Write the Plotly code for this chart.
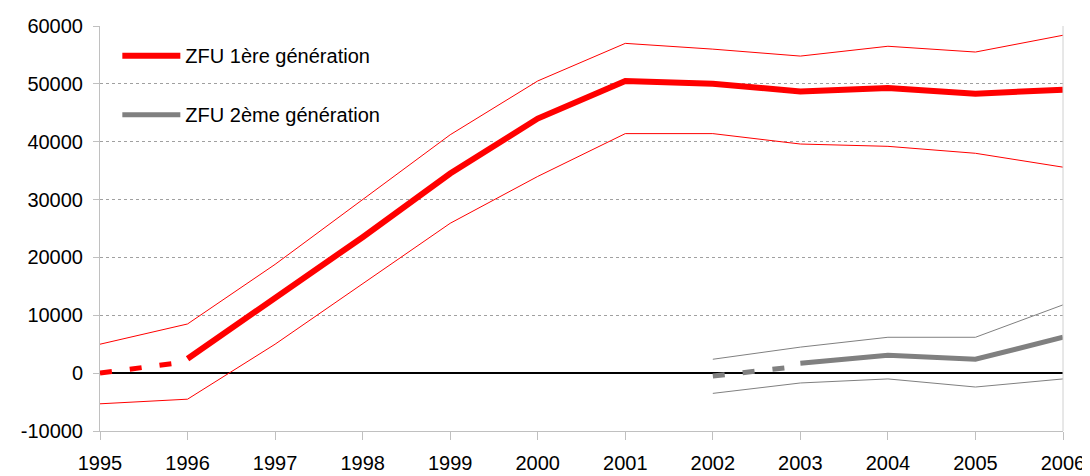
import plotly.graph_objects as go

years = [1995, 1996, 1997, 1998, 1999, 2000, 2001, 2002, 2003, 2004, 2005, 2006]
y_ticks = [-10000, 0, 10000, 20000, 30000, 40000, 50000, 60000]
y_labels = ["-10000", "0", "10000", "20000", "30000", "40000", "50000", "60000"]

# ZFU 1ère génération
g1_years_pre = [1995, 1996]
g1_pre = [0, 2000]
g1_years = [1996, 1997, 1998, 1999, 2000, 2001, 2002, 2003, 2004, 2005, 2006]
g1_mid = [2500, 13000, 23500, 34500, 44000, 50500, 50000, 48700, 49300, 48300, 49000]
g1_up = [5000, 8500, 18800, 30000, 41200, 50500, 57000, 56000, 54800, 56500, 55500, 58400]
g1_lo = [-5300, -4500, 5000, 15500, 25900, 34000, 41400, 41400, 39600, 39200, 38000, 35600]

# ZFU 2ème génération
g2_years_pre = [2002, 2003]
g2_pre = [-500, 1200]
g2_years = [2003, 2004, 2005, 2006]
g2_mid = [1700, 3100, 2400, 6200]
g2_band_years = [2002, 2003, 2004, 2005, 2006]
g2_up = [2400, 4500, 6200, 6200, 11800]
g2_lo = [-3500, -1700, -1000, -2400, -1000]

RED = "#ff0000"
GRAY = "#808080"

fig = go.Figure()
fig.add_trace(go.Scatter(x=years, y=g1_up, mode="lines", line=dict(color=RED, width=1), showlegend=False))
fig.add_trace(go.Scatter(x=years, y=g1_lo, mode="lines", line=dict(color=RED, width=1), showlegend=False))
fig.add_trace(go.Scatter(x=g1_years_pre, y=g1_pre, mode="lines", line=dict(color=RED, width=5, dash="12px,18px"), showlegend=False))
fig.add_trace(go.Scatter(x=g1_years, y=g1_mid, mode="lines", line=dict(color=RED, width=6),
                         name="ZFU 1ère génération", legendgroup="a"))

fig.add_trace(go.Scatter(x=g2_band_years, y=g2_up, mode="lines", line=dict(color=GRAY, width=1), showlegend=False))
fig.add_trace(go.Scatter(x=g2_band_years, y=g2_lo, mode="lines", line=dict(color=GRAY, width=1), showlegend=False))
fig.add_trace(go.Scatter(x=g2_years_pre, y=g2_pre, mode="lines", line=dict(color=GRAY, width=5, dash="12px,18px"), showlegend=False))
fig.add_trace(go.Scatter(x=g2_years, y=g2_mid, mode="lines", line=dict(color=GRAY, width=5),
                         name="ZFU 2ème génération", legendgroup="b"))

fig.update_layout(
    width=1090, height=476,
    margin=dict(l=92, r=35, t=18, b=53),
    paper_bgcolor="white", plot_bgcolor="white",
    font=dict(family="Liberation Sans, Arial, sans-serif", size=20, color="#000000"),
    showlegend=True,
    legend=dict(x=0.018, y=0.975, xanchor="left", yanchor="top", bgcolor="rgba(255,255,255,0)",
                font=dict(size=20), tracegroupgap=30, itemwidth=58, traceorder="grouped"),
    xaxis=dict(range=[1995, 2006], tickmode="array", tickvals=years, ticktext=[str(y) for y in years],
               showgrid=False, ticks="outside", ticklen=8, tickcolor="#c0c0c0", ticklabelstandoff=6,
               showline=True, linecolor="#c0c0c0", zeroline=False, automargin=False),
    yaxis=dict(range=[-10000, 60000], tickmode="array", tickvals=y_ticks, ticktext=y_labels,
               showgrid=True, gridcolor="#a0a0a0", griddash="dot", gridwidth=1,
               ticks="outside", ticklen=6, tickcolor="#c0c0c0", ticklabelstandoff=6,
               showline=True, linecolor="#c0c0c0", automargin=False,
               zeroline=True, zerolinecolor="#000000", zerolinewidth=1.5),
)
fig.add_shape(type="line", xref="paper", yref="paper", x0=1, x1=1, y0=0, y1=1,
              line=dict(color="#d0d0d0", width=1))

fig.write_html("out.html")
